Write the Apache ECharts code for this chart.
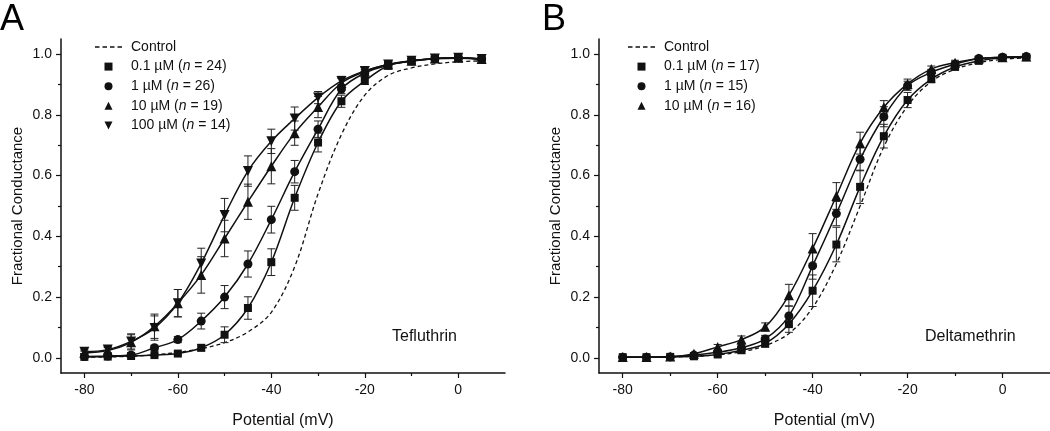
<!DOCTYPE html>
<html><head><meta charset="utf-8">
<script src="https://cdn.jsdelivr.net/npm/echarts@6/dist/echarts.min.js"></script>
<style>html,body{margin:0;padding:0;background:#fff}#c{width:1050px;height:431px}</style>
</head><body><div id="c"></div>
<script>
// ---- data ----
const potentials = [-80,-75,-70,-65,-60,-55,-50,-45,-40,-35,-30,-25,-20,-15,-10,-5,0,5];
const xTickLabels = [-80,-60,-40,-20,0];
const xMinorTicks = [-70,-50,-30,-10];
const yTickLabels = [0,0.2,0.4,0.6,0.8,1.0];
const yMinorTicks = [0.1,0.3,0.5,0.7,0.9];

const panelLetters = ['A','B'];
const compounds = ['Tefluthrin','Deltamethrin'];

const tefConcs = ['0.1 µM','1 µM','10 µM','100 µM'];
const tefN = [24,26,19,14];
const delConcs = ['0.1 µM','1 µM','10 µM'];
const delN = [17,15,16];

const tefControl = [0.002,0.003,0.005,0.01,0.018,0.03,0.05,0.085,0.15,0.30,0.54,0.735,0.865,0.93,0.955,0.968,0.975,0.978];
const tef01  = [0.003,0.004,0.006,0.009,0.014,0.033,0.076,0.164,0.315,0.527,0.709,0.845,0.912,0.962,0.977,0.985,0.987,0.983];
const tef1   = [0.004,0.006,0.009,0.033,0.060,0.121,0.200,0.309,0.455,0.613,0.753,0.885,0.938,0.964,0.978,0.986,0.988,0.984];
const tef10  = [0.016,0.024,0.051,0.104,0.180,0.273,0.393,0.514,0.631,0.740,0.826,0.905,0.943,0.966,0.978,0.986,0.988,0.984];
const tef100 = [0.020,0.027,0.054,0.098,0.180,0.311,0.470,0.615,0.713,0.788,0.857,0.912,0.945,0.966,0.978,0.986,0.988,0.984];
const tef01Err  = [0.002,0.002,0.003,0.004,0.005,0.010,0.026,0.037,0.044,0.041,0.031,0.020,0.012,0.010,0.008,0.006,0.005,0.005];
const tef1Err   = [0.003,0.003,0.004,0.008,0.010,0.026,0.038,0.043,0.044,0.037,0.027,0.015,0.012,0.010,0.008,0.006,0.005,0.005];
const tef10Err  = [0.006,0.010,0.025,0.040,0.045,0.060,0.060,0.058,0.058,0.040,0.035,0.015,0.012,0.010,0.008,0.006,0.005,0.005];
const tef100Err = [0.006,0.010,0.025,0.040,0.045,0.050,0.055,0.050,0.040,0.038,0.020,0.015,0.012,0.010,0.008,0.006,0.005,0.005];

const delControl = [0.001,0.002,0.003,0.005,0.010,0.020,0.040,0.080,0.165,0.310,0.500,0.695,0.830,0.910,0.950,0.972,0.983,0.988];
const del01 = [0.002,0.002,0.003,0.005,0.011,0.025,0.047,0.111,0.221,0.373,0.563,0.730,0.849,0.918,0.958,0.978,0.988,0.990];
const del1  = [0.002,0.002,0.003,0.009,0.018,0.033,0.062,0.138,0.303,0.475,0.654,0.794,0.896,0.940,0.967,0.986,0.990,0.992];
const del10 = [0.003,0.003,0.004,0.013,0.036,0.060,0.102,0.206,0.360,0.533,0.707,0.825,0.902,0.951,0.972,0.986,0.990,0.992];
const del01Err = [0.002,0.002,0.002,0.004,0.006,0.010,0.012,0.027,0.052,0.057,0.055,0.039,0.025,0.012,0.008,0.006,0.005,0.005];
const del1Err  = [0.002,0.002,0.002,0.004,0.006,0.010,0.012,0.033,0.044,0.040,0.038,0.033,0.015,0.010,0.008,0.006,0.005,0.005];
const del10Err = [0.002,0.002,0.002,0.004,0.008,0.012,0.013,0.036,0.049,0.044,0.036,0.022,0.016,0.010,0.008,0.006,0.005,0.005];

// ---- styling ----
const FONT = 'Liberation Sans, Arial, Helvetica, sans-serif';
const INK = '#111';
const symbolDefs = [
  {symbol:'rect', size:8, rotate:0, icon:'path://M0,0H10V10H0Z'},
  {symbol:'circle', size:9, rotate:0, icon:'path://M5,0A5,5,0,1,1,5,10A5,5,0,1,1,5,0Z'},
  {symbol:'triangle', size:10, rotate:0, icon:'path://M5,0L10,10L0,10Z'},
  {symbol:'triangle', size:10, rotate:180, icon:'path://M0,0L10,0L5,10Z'}
];
const dashIcon = 'path://M0,0h4.5v1.3h-4.5z M7.5,0h4.5v1.3h-4.5z M15,0h4.5v1.3h-4.5z M22.5,0h4.5v1.3h-4.5z';

const panels = [
  {control: tefControl, concs: tefConcs, ns: tefN, ys:[tef01,tef1,tef10,tef100], es:[tef01Err,tef1Err,tef10Err,tef100Err]},
  {control: delControl, concs: delConcs, ns: delN, ys:[del01,del1,del10], es:[del01Err,del1Err,del10Err]}
];

const pairs = ys => potentials.map((x,i)=>[x, ys[i]]);
const errTriples = (ys,es) => potentials.map((x,i)=>[x, ys[i]-es[i], ys[i]+es[i]]);

function renderErr(params, api){
  const x = api.value(0);
  const lo = api.coord([x, api.value(1)]);
  const hi = api.coord([x, api.value(2)]);
  const w = 4;
  const st = {stroke:'#222', lineWidth:1};
  return {type:'group', children:[
    {type:'line', shape:{x1:lo[0],y1:lo[1],x2:hi[0],y2:hi[1]}, style:st},
    {type:'line', shape:{x1:lo[0]-w,y1:lo[1],x2:lo[0]+w,y2:lo[1]}, style:st},
    {type:'line', shape:{x1:hi[0]-w,y1:hi[1],x2:hi[0]+w,y2:hi[1]}, style:st}
  ]};
}

const grids = [
  {left:61, top:39, width:444, height:334, outerBoundsMode:'none', containLabel:false},
  {left:599, top:39, width:451, height:334, outerBoundsMode:'none', containLabel:false}
];
const xAxes = [], yAxes = [], series = [], legends = [], graphics = [];
const txt = (size) => ({fontFamily:FONT, fontSize:size, color:INK});

panels.forEach((p, g) => {
  xAxes.push({gridIndex:g, type:'value', min:-85, max:10, position:'bottom',
    axisLine:{onZero:false, lineStyle:{color:INK, width:1.5}},
    axisTick:{customValues:xTickLabels, length:5, lineStyle:{color:INK, width:1.2}},
    axisLabel:Object.assign({customValues:xTickLabels, margin:10}, txt(14)),
    splitLine:{show:false},
    name:'Potential (mV)', nameLocation:'middle', nameGap:40, nameTextStyle:txt(16)});
  xAxes.push({gridIndex:g, type:'value', min:-85, max:10, position:'bottom',
    axisLine:{show:false, onZero:false},
    axisTick:{customValues:xMinorTicks, length:3, lineStyle:{color:INK, width:1.2}},
    axisLabel:{show:false}, splitLine:{show:false}});
  yAxes.push({gridIndex:g, type:'value', min:-0.05, max:1.05, position:'left',
    axisLine:{show:true, onZero:false, lineStyle:{color:INK, width:1.5}},
    axisTick:{show:true, customValues:yTickLabels, length:5, lineStyle:{color:INK, width:1.2}},
    axisLabel:Object.assign({customValues:yTickLabels, margin:9, formatter:v=>v.toFixed(1)}, txt(14)),
    splitLine:{show:false},
    name:'Fractional Conductance', nameLocation:'middle', nameGap:36, nameTextStyle:txt(15)});
  yAxes.push({gridIndex:g, type:'value', min:-0.05, max:1.05, position:'left',
    axisLine:{show:false, onZero:false},
    axisTick:{show:true, customValues:yMinorTicks, length:3, lineStyle:{color:INK, width:1.2}},
    axisLabel:{show:false}, splitLine:{show:false}});

  const xi = 2*g, yi = 2*g;
  series.push({name:'Control', type:'line', xAxisIndex:xi, yAxisIndex:yi, data:pairs(p.control),
    symbol:'none', smooth:0.35, lineStyle:{color:INK, width:1.3, type:[4,3]}, itemStyle:{color:INK}, z:2, silent:true});
  const legendData = [{name:'Control', icon:dashIcon}];
  p.concs.forEach((c, k) => {
    const nm = `${c} (n = ${p.ns[k]})`;
    const sd = symbolDefs[k];
    legendData.push({name:nm, icon:sd.icon});
    series.push({type:'line', xAxisIndex:xi, yAxisIndex:yi, data:pairs(p.ys[k]),
      symbol:'none', smooth:0.35, lineStyle:{color:INK, width:1.5}, z:2, silent:true});
    series.push({type:'custom', xAxisIndex:xi, yAxisIndex:yi, data:errTriples(p.ys[k], p.es[k]),
      renderItem:renderErr, encode:{x:0, y:[1,2]}, z:3, silent:true});
    series.push({name:nm, type:'scatter', xAxisIndex:xi, yAxisIndex:yi, data:pairs(p.ys[k]),
      symbol:sd.symbol, symbolSize:sd.size, symbolRotate:sd.rotate, itemStyle:{color:INK, opacity:1}, z:4, silent:true});
  });
  legends.push({data:legendData, orient:'vertical', left: g===0 ? 90 : 623, top:35,
    itemWidth:27, itemHeight:8, itemGap:5.6, selectedMode:false, symbolKeepAspect:true, symbolRotate:0,
    itemStyle:{color:INK},
    textStyle:Object.assign({padding:[0,0,0,4], rich:{it:Object.assign({fontStyle:'italic'}, txt(14))}}, txt(14)),
    formatter: n => n.replace('(n', '({it|n}')});
  graphics.push({type:'text', left: g===0 ? 0 : 542, top:2, style:{text:panelLetters[g], font:'36px '+FONT, fill:'#000'}});
  graphics.push({type:'text', left: g===0 ? 392 : 925, top:329, style:{text:compounds[g], font:'16px '+FONT, fill:INK}});
});

const chart = echarts.init(document.getElementById('c'), null, {renderer:'canvas'});
chart.setOption({
  animation:false, backgroundColor:'#fff',
  grid:grids, xAxis:xAxes, yAxis:yAxes, series:series, legend:legends, graphic:graphics
});
</script></body></html>
